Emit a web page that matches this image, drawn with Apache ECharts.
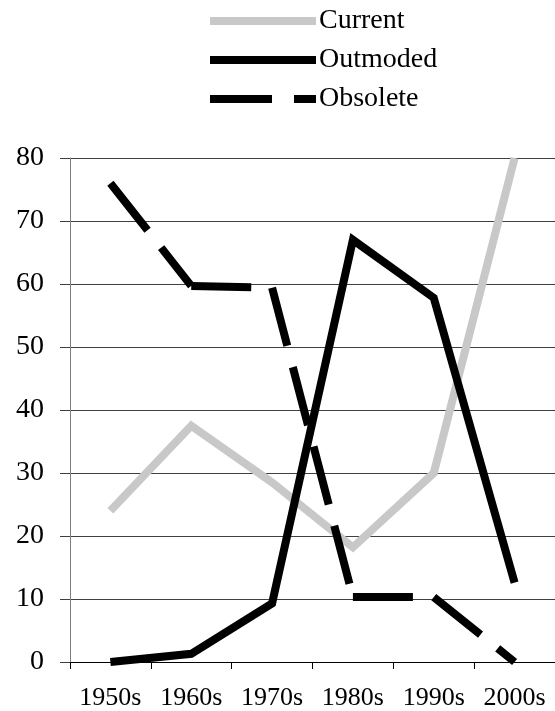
<!DOCTYPE html>
<html>
<head>
<meta charset="utf-8">
<script src="https://cdn.jsdelivr.net/npm/echarts@6/dist/echarts.min.js"></script>
<style>html,body{margin:0;padding:0;background:#fff}#c{width:555px;height:711px}</style>
</head>
<body>
<div id="c"></div>
<script>
const categories = ['1950s', '1960s', '1970s', '1980s', '1990s', '2000s'];
const current = [24, 37.5, 28.5, 18.2, 30, 80];
const outmoded = [0, 1.3, 9.3, 67, 57.8, 12.6];
const obsolete = [76, 59.7, 59.4, 10.3, 10.3, 0];
const yTicks = { min: 0, max: 80, interval: 10 };

const font = '"Liberation Serif", "Times New Roman", serif';

// The dashed line restarts its dash pattern at every vertex, so draw each segment separately
const obsoleteSegments = obsolete.slice(0, -1).map(function (v, i) {
  const d = obsolete.map(function () { return null; });
  d[i] = obsolete[i];
  d[i + 1] = obsolete[i + 1];
  return {
    name: 'Obsolete', type: 'line', data: d, symbol: 'none', connectNulls: false,
    itemStyle: { color: '#000' },
    lineStyle: { color: '#000', width: 8, type: [60, 22], cap: 'butt', join: 'miter' }
  };
});

const chart = echarts.init(document.getElementById('c'), null, { renderer: 'canvas' });
chart.setOption({
  animation: false,
  backgroundColor: '#fff',
  legend: {
    orient: 'vertical',
    left: 205,
    top: 2,
    itemWidth: 106,
    itemHeight: 8,
    itemGap: 11,
    textStyle: { fontFamily: font, fontSize: 28, color: '#000', padding: [0, 0, 0, -2] },
    data: [
      { name: 'Current', icon: 'rect', itemStyle: { color: '#c8c8c8' } },
      { name: 'Outmoded', icon: 'rect', itemStyle: { color: '#000' } },
      { name: 'Obsolete', icon: 'path://M0,0h62v8h-62z M84,0h22v8h-22z', itemStyle: { color: '#000' } }
    ]
  },
  grid: { left: 70, top: 158, width: 490, height: 505, containLabel: false },
  xAxis: {
    type: 'category',
    data: categories,
    boundaryGap: true,
    axisLine: { lineStyle: { color: '#000', width: 1 } },
    axisTick: { show: true, interval: 0, length: 7, lineStyle: { color: '#000' } },
    axisLabel: { interval: 0, fontFamily: font, fontSize: 26, color: '#000', margin: 23 },
    splitLine: { show: false }
  },
  yAxis: {
    type: 'value',
    min: yTicks.min, max: yTicks.max, interval: yTicks.interval,
    axisLine: { show: true, lineStyle: { color: '#808080', width: 1 } },
    axisTick: { show: true, length: 10, lineStyle: { color: '#404040' } },
    axisLabel: { fontFamily: font, fontSize: 28, color: '#000', margin: 26 },
    splitLine: { show: true, lineStyle: { color: '#404040', width: 1 } }
  },
  series: [
    {
      name: 'Current', type: 'line', data: current, symbol: 'none',
      itemStyle: { color: '#c8c8c8' },
      lineStyle: { color: '#c8c8c8', width: 8, cap: 'butt', join: 'miter' }
    },
    {
      name: 'Outmoded', type: 'line', data: outmoded, symbol: 'none',
      itemStyle: { color: '#000' },
      lineStyle: { color: '#000', width: 8, cap: 'butt', join: 'miter' }
    }
  ].concat(obsoleteSegments)
});
</script>
</body>
</html>
